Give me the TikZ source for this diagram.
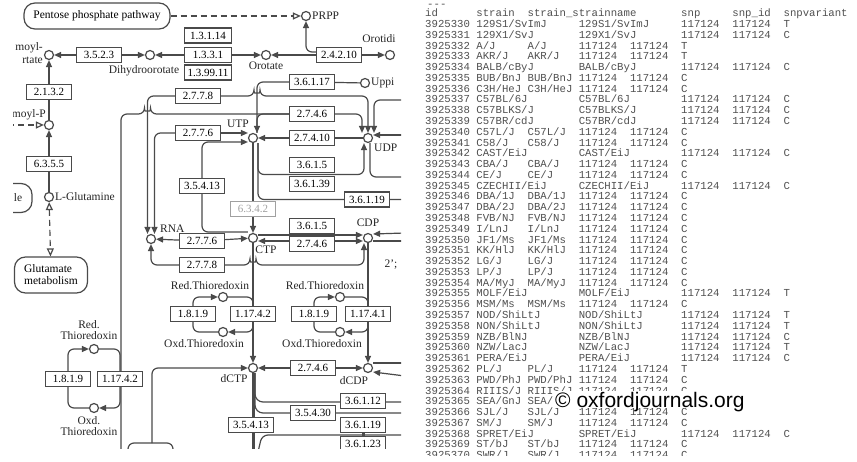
\documentclass[tikz,border=0pt]{standalone}
\usepackage{fontspec}
\setmainfont{Liberation Serif}
\newfontfamily\tabfont{Liberation Mono}
\newfontfamily\markfont{Liberation Sans}
\usetikzlibrary{arrows.meta}

\pgfdeclarelayer{bg}
\pgfsetlayers{bg,main}

\definecolor{keggline}{HTML}{4A4A4A}
\definecolor{keggoff}{HTML}{A0A0A0}
\definecolor{tabgray}{HTML}{505050}

\tikzset{
  enz/.style={draw=keggline, line width=1.2pt, fill=white, minimum width=45pt,
    minimum height=15pt, inner sep=0pt, font=\fontsize{11}{11}\selectfont},
  enzoff/.style={enz, draw=keggoff, text=keggoff},
  cpd/.style={circle, draw=keggline, line width=1.2pt, fill=white,
    minimum size=9pt, inner sep=0pt},
  lbl/.style={inner sep=0pt, text=black!85, font=\fontsize{11.5}{11}\selectfont},
  mapbox/.style={draw=keggline, line width=1.2pt, rounded corners=11pt,
    fill=white, inner sep=0pt, font=\fontsize{11.5}{12}\selectfont},
  link/.style={draw=keggline, line width=1.2pt, rounded corners=6pt},
  rxn/.style={link, -{Triangle[length=7pt, width=6pt]}},
  rxnboth/.style={link, {Triangle[length=7pt, width=6pt]}-{Triangle[length=7pt, width=6pt]}},
  mapline/.style={link, dash pattern=on 6pt off 4pt, -{Triangle[open, length=8pt, width=7pt]}},
  mapboth/.style={mapline, {Triangle[open, length=8pt, width=7pt]}-{Triangle[open, length=8pt, width=7pt]}},
  tab/.style={anchor=base west, inner sep=0pt, text=tabgray,
    font=\tabfont\fontsize{10.67}{11}\selectfont},
}

% one line of the strain table, short strain name (tab after 8 columns)
\newcommand{\srow}[4]{%
  \node [tab] (r#1a) at (425,{27.5+10.78*#1}) {#2};
  \node [tab] (r#1b) at (476.2,{27.5+10.78*#1}) {#3};
  \node [tab] (r#1c) at (527.4,{27.5+10.78*#1}) {#3};
  \node [tab] (r#1d) at (578.6,{27.5+10.78*#1}) {117124};
  \node [tab] (r#1e) at (629.8,{27.5+10.78*#1}) {117124};
  \node [tab] (r#1f) at (681,{27.5+10.78*#1}) {#4};
}
% long strain name (two tab stops)
\newcommand{\lrow}[4]{%
  \node [tab] (r#1a) at (425,{27.5+10.78*#1}) {#2};
  \node [tab] (r#1b) at (476.2,{27.5+10.78*#1}) {#3};
  \node [tab] (r#1c) at (578.6,{27.5+10.78*#1}) {#3};
  \node [tab] (r#1d) at (681,{27.5+10.78*#1}) {117124};
  \node [tab] (r#1e) at (732.2,{27.5+10.78*#1}) {117124};
  \node [tab] (r#1f) at (783.4,{27.5+10.78*#1}) {#4};
}

\begin{document}
\begin{tikzpicture}[x=1pt, y=-1pt]
  \useasboundingbox (0,0) rectangle (857,462);

  % Pathway map: nodes
  \begin{scope}
    \clip (13,0) rectangle (401,448);

    % Map links
    \node [mapbox, minimum width=146pt, minimum height=26pt] (ppp) at (97,16) {Pentose phosphate pathway};
    \node [mapbox, minimum width=73pt, minimum height=36pt, align=left] (glumap) at (51,275) {Glutamate\\metabolism};
    \node [mapbox, minimum width=70pt, minimum height=29pt] (leftmap) at (-3,198) {};
    \node [lbl] (leftmapl) at (18,198) {le};

    % Compounds
    \node [cpd] (prpp) at (306,16) {};
    \node [cpd] (cas) at (49,55) {};
    \node [cpd] (dho) at (150,55) {};
    \node [cpd] (oro) at (266,55) {};
    \node [cpd] (omp) at (390,55) {};
    \node [cpd] (cap) at (49,125) {};
    \node [cpd] (gln) at (49,197) {};
    \node [cpd] (uppi) at (365,83) {};
    \node [cpd] (utp) at (253,138) {};
    \node [cpd] (udp) at (368,138) {};
    \node [cpd] (rna) at (151,239) {};
    \node [cpd] (ctp) at (253,238) {};
    \node [cpd] (cdp) at (368,238) {};
    \node [cpd] (dctp) at (253,368) {};
    \node [cpd] (dcdp) at (368,368) {};
    \node [cpd] (redA) at (223,297) {};
    \node [cpd] (oxdA) at (223,332) {};
    \node [cpd] (redB) at (340,297) {};
    \node [cpd] (oxdB) at (340,332) {};
    \node [cpd] (redC) at (94,349) {};
    \node [cpd] (oxdC) at (94,408) {};

    % Compound labels
    \node [lbl, left] (casl1) at (43,48) {moyl-};
    \node [lbl, left] (casl2) at (43,60) {rtate};
    \node [lbl] (dhol) at (144,71) {Dihydroorotate};
    \node [lbl] (orol) at (266,66) {Orotate};
    \node [lbl] (ompl) at (379,39) {Orotidi};
    \node [lbl, right] (prppl) at (312,16) {PRPP};
    \node [lbl, left] (capl) at (46,115) {moyl-P};
    \node [lbl, right] (glnl) at (55,197) {L-Glutamine};
    \node [lbl, right] (uppil) at (371,83) {Uppi};
    \node [lbl] (utpl) at (238,124) {UTP};
    \node [lbl, right] (udpl) at (374,148) {UDP};
    \node [lbl, right] (rnal) at (160,229) {RNA};
    \node [lbl] (ctpl) at (266,250) {CTP};
    \node [lbl] (cdpl) at (368,223) {CDP};
    \node [lbl] (dctpl) at (234,379) {dCTP};
    \node [lbl] (dcdpl) at (354,381) {dCDP};
    \node [lbl] (redAl) at (210,286) {Red.Thioredoxin};
    \node [lbl] (oxdAl) at (204,344) {Oxd.Thioredoxin};
    \node [lbl] (redBl) at (325,286) {Red.Thioredoxin};
    \node [lbl] (oxdBl) at (322,344) {Oxd.Thioredoxin};
    \node [lbl, align=center] (redCl) at (89,330) {Red.\\Thioredoxin};
    \node [lbl, align=center] (oxdCl) at (89,426) {Oxd.\\Thioredoxin};
    \node [lbl] (cycl) at (391,265) {2';};

    % Enzymes
    \node [enz] (e3523) at (99,55) {3.5.2.3};
    \node [enz, minimum width=47pt] (e13114) at (208,35.5) {1.3.1.14};
    \node [enz, minimum width=47pt] (e1331) at (208,55) {1.3.3.1};
    \node [enz, minimum width=47pt] (e139911) at (208,72.5) {1.3.99.11};
    \node [enz] (e24210) at (339,55) {2.4.2.10};
    \node [enz] (e2132) at (49,92) {2.1.3.2};
    \node [enz] (e6355) at (49,164) {6.3.5.5};
    \node [enz] (e36117) at (312,82) {3.6.1.17};
    \node [enz] (e2778a) at (198,96) {2.7.7.8};
    \node [enz] (e2746a) at (312,114) {2.7.4.6};
    \node [enz] (e2776a) at (198,133) {2.7.7.6};
    \node [enz] (e27410) at (312,138) {2.7.4.10};
    \node [enz] (e3615a) at (312,165) {3.6.1.5};
    \node [enz] (e36139) at (312,184) {3.6.1.39};
    \node [enz] (e35413a) at (202,186) {3.5.4.13};
    \node [enz] (e36119a) at (367,199.5) {3.6.1.19};
    \node [enzoff] (e6342) at (253,209) {6.3.4.2};
    \node [enz] (e3615b) at (312,226) {3.6.1.5};
    \node [enz] (e2746b) at (312,244) {2.7.4.6};
    \node [enz] (e2776b) at (202,241) {2.7.7.6};
    \node [enz] (e2778b) at (202,265) {2.7.7.8};
    \node [enz] (e1819a) at (193,314) {1.8.1.9};
    \node [enz] (e11742a) at (253,314) {1.17.4.2};
    \node [enz] (e1819b) at (314,314) {1.8.1.9};
    \node [enz] (e11741) at (368,314) {1.17.4.1};
    \node [enz] (e1819c) at (68,379) {1.8.1.9};
    \node [enz] (e11742c) at (120,379) {1.17.4.2};
    \node [enz] (e2746c) at (313,368) {2.7.4.6};
    \node [enz] (e36112) at (363,401) {3.6.1.12};
    \node [enz] (e35430) at (313,413) {3.5.4.30};
    \node [enz] (e35413b) at (251,425) {3.5.4.13};
    \node [enz] (e36119b) at (363,425) {3.6.1.19};
    \node [enz] (e36123) at (363,444) {3.6.1.23};
  \end{scope}

  % Pathway map: connectors, under the nodes
  \begin{pgfonlayer}{bg}
    \fill [white] (0,0) rectangle (857,462);
    \begin{scope}
      \clip (13,0) rectangle (401,448);
      \coordinate (capin) at (8,125);
      \coordinate (sidebot) at (121,452);
      \coordinate (udpin1) at (405,100);
      \coordinate (udpin2) at (405,135);
      \coordinate (r177) at (405,177);
      \coordinate (r199) at (405,199.5);
      \coordinate (cdpin) at (405,233);
      \coordinate (cdpout) at (405,241);
      \coordinate (tjunc) at (152,443);
      \coordinate (brl) at (128,452);
      \coordinate (brr) at (173,452);
      \coordinate (dcdpout) at (405,363);
      \coordinate (dcdpin) at (405,376);
      \coordinate (dctpbot) at (253,452);
      \coordinate (r402) at (405,402);
      \coordinate (r413) at (405,413);
      \coordinate (r435) at (405,435);

      % Orotate route
      \draw [rxn] (e3523) -- (cas);
      \draw [rxn] (e3523) -- (dho);
      \draw [rxn] (e1331) -- (dho);
      \draw [rxn] (e1331) -- (oro);
      \draw [rxn] (e24210) -- (oro);
      \draw [rxn] (e24210) -- (omp);
      \draw [rxn] ([yshift=3pt]e24210.west) -| (prpp);
      \draw [mapline] (ppp) -- (prpp);

      % Carbamoyl column
      \draw [mapline] (capin) -- (cap);
      \draw [link] (cap) -- (e2132);
      \draw [rxn] (e2132) -- (cas);
      \draw [rxn] (e6355) -- (cap);
      \draw [link] (gln) -- (e6355);
      \draw [mapboth] (gln) -- (glumap);

      % UTP / UDP
      \draw [link] (sidebot) -- (121,114) -- (144.5,114)
        arc [start angle=180, end angle=0, radius=3pt] -- (e2746a);
      \draw [link] (e2746a) -| ([xshift=4pt]utp.north);
      \draw [rxn] (e36117) -| ([xshift=4pt]utp.north);
      \draw [link] (e36117) -- (uppi);
      \draw [rxn] (e2778a) -| ([xshift=-3.5pt]rna.north);
      \draw [rxn] (e2776a) -| ([xshift=3.5pt]rna.north);
      \draw [rxn] (e2776a) -- (e2776a -| utp.west);
      \draw [rxn] (e35413a) |- ([yshift=-4pt]utp.west);
      \draw [rxn] (e2778a.east) -- (254,96)
        arc [start angle=180, end angle=0, radius=3pt] -- (368,96) -- (udp.north);
      \draw [rxn] (e2746a) -| ([xshift=-6pt]udp.north);
      \draw [rxn] (udpin1) -| ([xshift=6pt]udp.north);
      \draw [rxn] (udpin2) -- ([yshift=3pt]udp.east);
      \draw [rxn] (e27410) -- (utp);
      \draw [link] (e27410) -- (udp);
      \draw [rxn] ([xshift=5pt]utp.south) |- (364,174.5) -- ([xshift=-4pt]udp.south);
      \draw [link] ([xshift=5pt]utp.south) |- (r199);
      \draw [link] ([xshift=2pt]udp.south) |- (r177);

      % CTP / CDP
      \draw [link] (utp) -- (e6342);
      \draw [rxn] (e6342) -- (ctp);
      \draw [link] (e35413a) |- ([yshift=6pt]ctp.west);
      \draw [rxn] ([yshift=3pt]ctp.east) -- ([yshift=3pt]cdp.west);
      \draw [rxnboth] ([yshift=-3pt]ctp.east) -- ([yshift=-3pt]cdp.west);
      \draw [rxn] (cdpin) -- ([yshift=4pt]cdp.east);
      \draw [link] ([yshift=-3pt]cdp.east) -- (cdpout);
      \draw [rxn] (e2776b) -- (rna);
      \draw [rxn] (e2776b) -- (ctp);
      \draw [rxn] (e2778b) -| (rna);
      \draw [rxn] (e2778b.east) -- (250,265)
        arc [start angle=180, end angle=0, radius=3pt] -- (364,265) -- ([xshift=-4pt]cdp.south);

      % Thioredoxin cycles
      \draw [rxn] (e1819a) |- (redA);
      \draw [link] (e11742a) |- (redA);
      \draw [link] (e1819a) |- (oxdA);
      \draw [rxn] (e11742a) |- (oxdA);
      \draw [rxn] (e1819b) |- (redB);
      \draw [link] (e11741) |- (redB);
      \draw [link] (e1819b) |- (oxdB);
      \draw [rxn] (e11741) |- (oxdB);
      \draw [rxn] (e1819c) |- (redC);
      \draw [link] (e11742c) |- (redC);
      \draw [link] (e1819c) |- (oxdC);
      \draw [rxn] (e11742c) |- (oxdC);

      % Deoxy nucleotides
      \draw [link] (ctp) -- (e11742a);
      \draw [rxn] (e11742a) -- (dctp);
      \draw [link] (cdp) -- (e11741);
      \draw [rxn] (e11741) -- (dcdp);
      \draw [rxn] (e2746c) -- (dctp);
      \draw [rxn] (e2746c) -- (dcdp);
      \draw [rxn] (tjunc) |- (dctp);
      \draw [link] (brl) -- (128,443) -- (173,443) -- (brr);
      \draw [link] ([yshift=5pt]dcdp.east) -- (dcdpout);
      \draw [rxn] (dcdpin) -- ([yshift=-4pt]dcdp.east);
      \draw [link, line width=3pt] (dctp) -- (dctpbot);
      \draw [link, rounded corners=8pt] ([xshift=2pt]dctp.south) |- (r402);
      \draw [link, rounded corners=8pt] ([xshift=2pt]dctp.south) |- (r413);
      \draw [link] (r435) -- (262,435) -- (258,452);
      \draw [link, line width=3pt] (e36119b) -- (e36123);
    \end{scope}
  \end{pgfonlayer}

  % Strain table
  \node [tab] (dashes) at (427,8) {-{}-{}-};
  \node [tab] (hid) at (425,16.5) {id};
  \node [tab] (hstrain) at (476.2,16.5) {strain};
  \node [tab] (hname) at (527.4,16.5) {strain\_strainname};
  \node [tab] (hsnp) at (681,16.5) {snp};
  \node [tab] (hsnpid) at (732.2,16.5) {snp\_id};
  \node [tab] (hvar) at (783.4,16.5) {snpvariant};
  \lrow{0}{3925330}{129S1/SvImJ}{T}
  \lrow{1}{3925331}{129X1/SvJ}{C}
  \srow{2}{3925332}{A/J}{T}
  \srow{3}{3925333}{AKR/J}{T}
  \lrow{4}{3925334}{BALB/cByJ}{C}
  \srow{5}{3925335}{BUB/BnJ}{C}
  \srow{6}{3925336}{C3H/HeJ}{C}
  \lrow{7}{3925337}{C57BL/6J}{C}
  \lrow{8}{3925338}{C57BLKS/J}{C}
  \lrow{9}{3925339}{C57BR/cdJ}{C}
  \srow{10}{3925340}{C57L/J}{C}
  \srow{11}{3925341}{C58/J}{C}
  \lrow{12}{3925342}{CAST/EiJ}{C}
  \srow{13}{3925343}{CBA/J}{C}
  \srow{14}{3925344}{CE/J}{C}
  \lrow{15}{3925345}{CZECHII/EiJ}{C}
  \srow{16}{3925346}{DBA/1J}{C}
  \srow{17}{3925347}{DBA/2J}{C}
  \srow{18}{3925348}{FVB/NJ}{C}
  \srow{19}{3925349}{I/LnJ}{C}
  \srow{20}{3925350}{JF1/Ms}{C}
  \srow{21}{3925351}{KK/HlJ}{C}
  \srow{22}{3925352}{LG/J}{C}
  \srow{23}{3925353}{LP/J}{C}
  \srow{24}{3925354}{MA/MyJ}{C}
  \lrow{25}{3925355}{MOLF/EiJ}{T}
  \srow{26}{3925356}{MSM/Ms}{C}
  \lrow{27}{3925357}{NOD/ShiLtJ}{T}
  \lrow{28}{3925358}{NON/ShiLtJ}{T}
  \lrow{29}{3925359}{NZB/BlNJ}{C}
  \lrow{30}{3925360}{NZW/LacJ}{T}
  \lrow{31}{3925361}{PERA/EiJ}{C}
  \srow{32}{3925362}{PL/J}{T}
  \srow{33}{3925363}{PWD/PhJ}{C}
  \srow{34}{3925364}{RIIIS/J}{C}
  % the rest of this line lies under the watermark
  \node [tab] (r35a) at (425,{27.5+10.78*35}) {3925365};
  \node [tab] (r35b) at (476.2,{27.5+10.78*35}) {SEA/GnJ};
  \node [tab] (r35c) at (527.4,{27.5+10.78*35}) {SEA/};
  \srow{36}{3925366}{SJL/J}{C}
  \srow{37}{3925367}{SM/J}{C}
  \lrow{38}{3925368}{SPRET/EiJ}{C}
  \srow{39}{3925369}{ST/bJ}{C}
  \begin{scope}
    \clip (420,440) rectangle (857,455);
    \srow{40}{3925370}{SWR/J}{C}
  \end{scope}

  % Watermark
  \fill [white] (553,391) rectangle (748,408);
  \node [anchor=base west, inner sep=0pt, font=\markfont\fontsize{21}{21}\selectfont]
    (mark) at (555,407) {\textcopyright{} oxfordjournals.org};
\end{tikzpicture}
\end{document}
